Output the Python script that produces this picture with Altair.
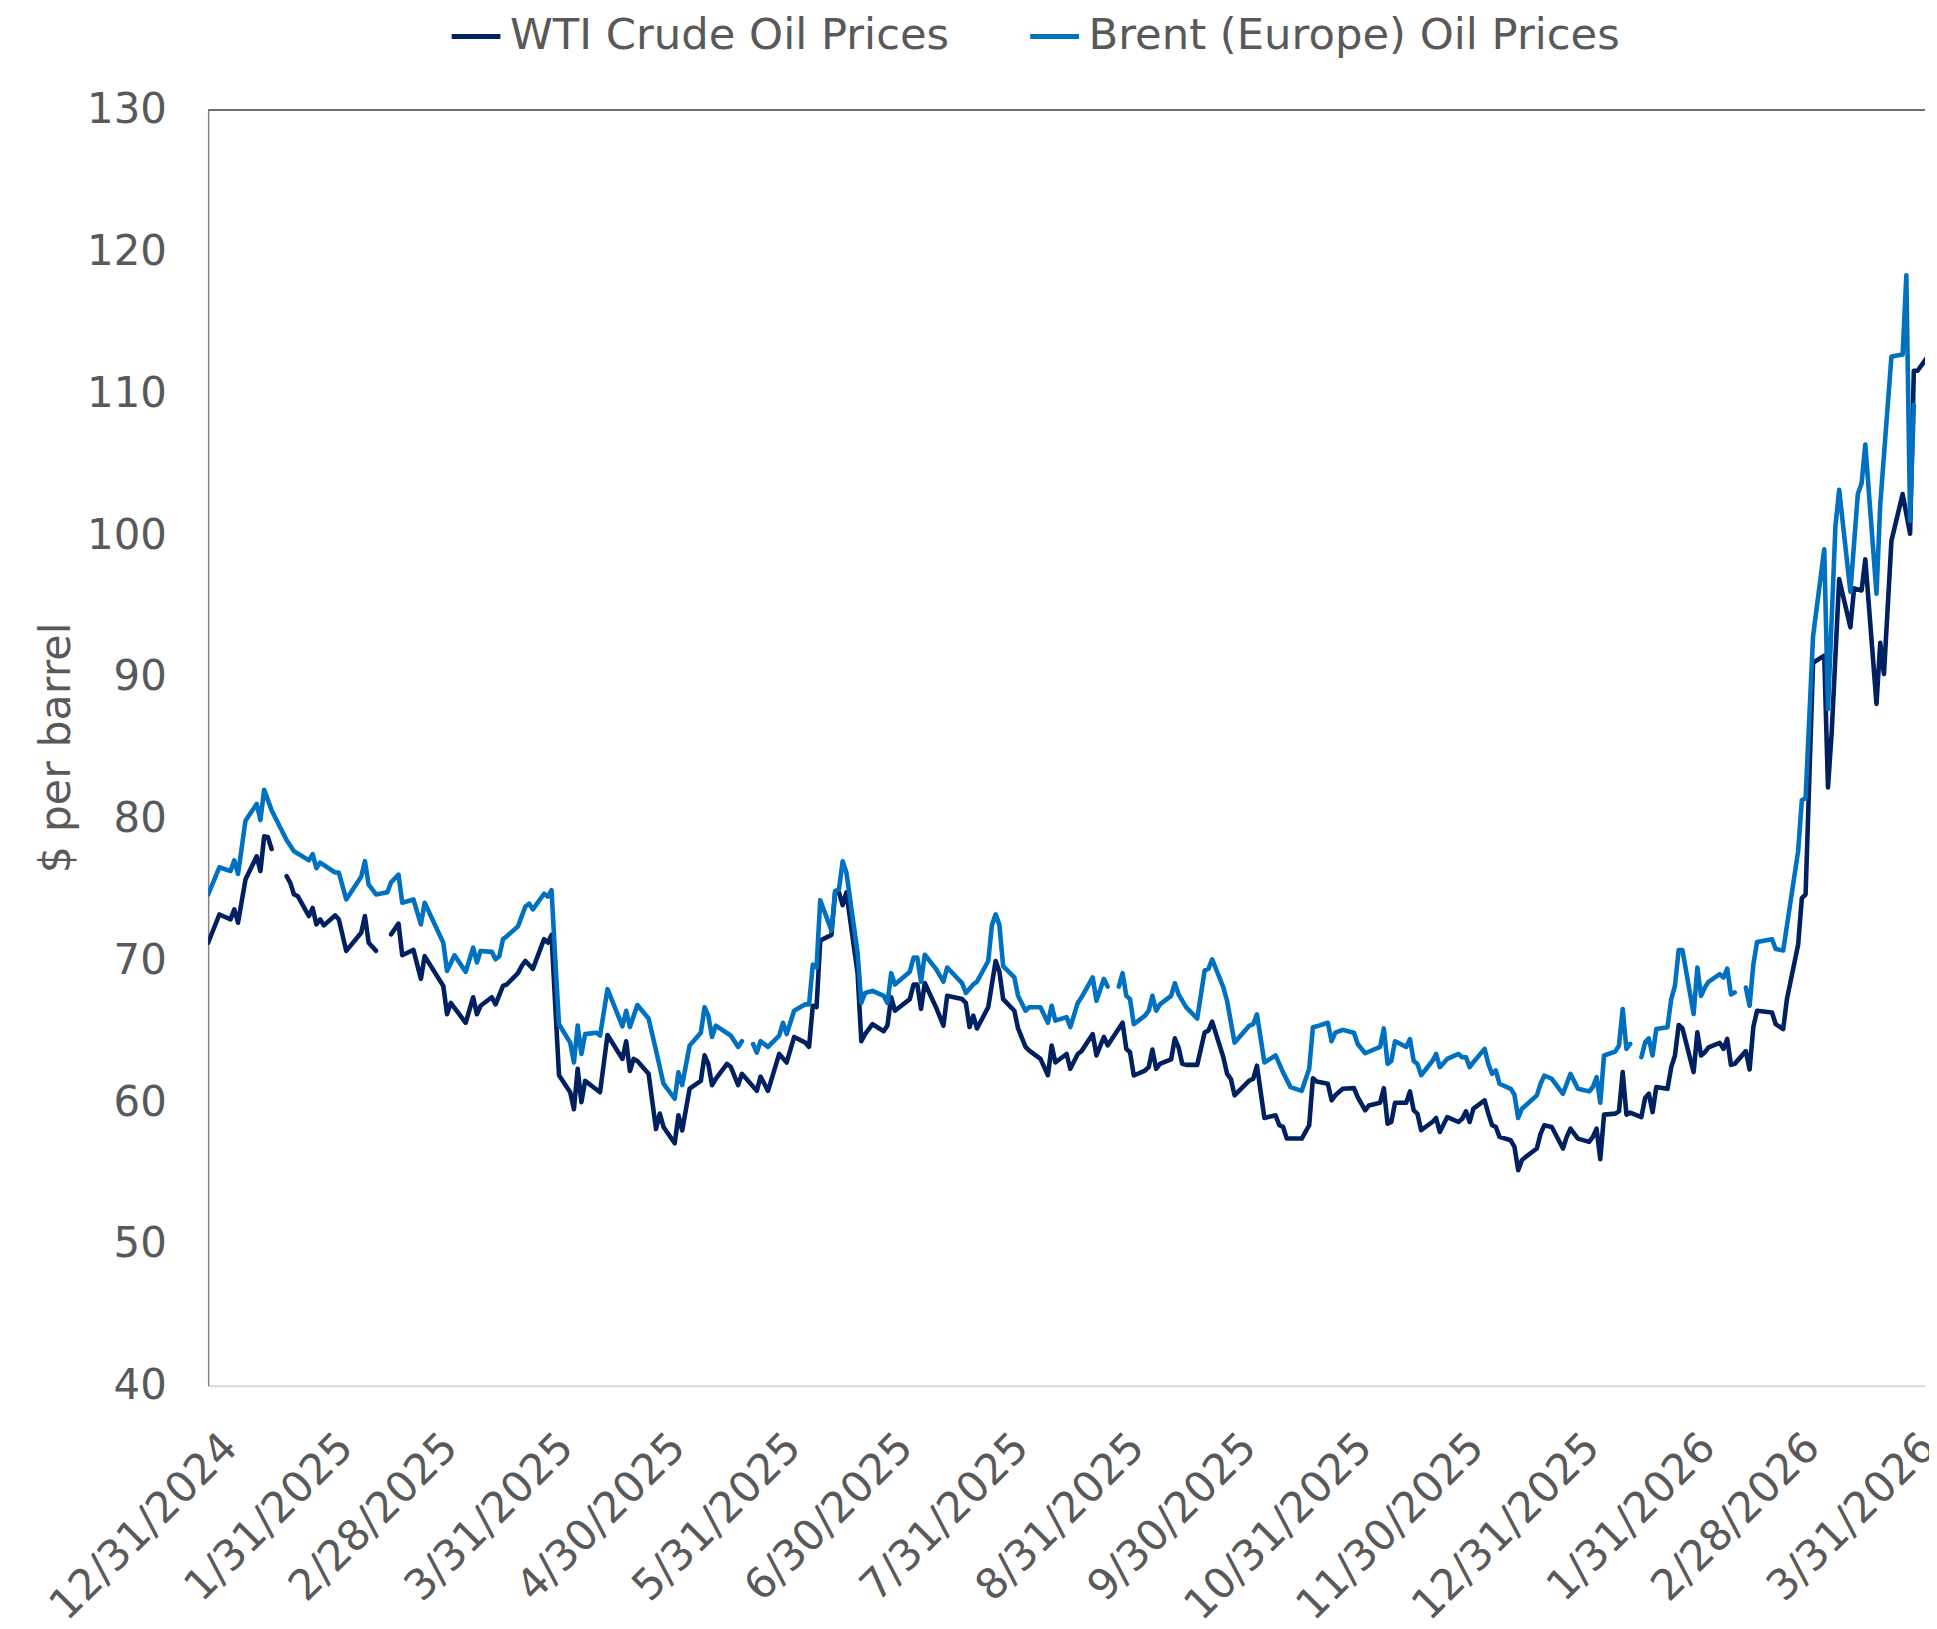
import datetime as dt
import altair as alt
import pandas as pd

WTI_NAME = "WTI Crude Oil Prices"
BRENT_NAME = "Brent (Europe) Oil Prices"

# ---- WTI (None marks a break in the line) ----
wti_dates = [
    "2024-12-31", "2025-01-03", "2025-01-06", "2025-01-07", "2025-01-08", "2025-01-10", "2025-01-13",
    "2025-01-14", "2025-01-15", "2025-01-16", "2025-01-17", "2025-01-20", "2025-01-21", "2025-01-22",
    "2025-01-23", "2025-01-24", "2025-01-27", "2025-01-28", "2025-01-29", "2025-01-30", "2025-01-31",
    "2025-02-03", "2025-02-04", "2025-02-06", "2025-02-10", "2025-02-11", "2025-02-12", "2025-02-14",
    "2025-02-17", "2025-02-18", "2025-02-20", "2025-02-21", "2025-02-24", "2025-02-26", "2025-02-27",
    "2025-03-04", "2025-03-05", "2025-03-06", "2025-03-10", "2025-03-12", "2025-03-13", "2025-03-14",
    "2025-03-17", "2025-03-18", "2025-03-20", "2025-03-21", "2025-03-24", "2025-03-25", "2025-03-26",
    "2025-03-28", "2025-03-31", "2025-04-01", "2025-04-02", "2025-04-03", "2025-04-04", "2025-04-07",
    "2025-04-08", "2025-04-09", "2025-04-10", "2025-04-11", "2025-04-15", "2025-04-17", "2025-04-21",
    "2025-04-22", "2025-04-23", "2025-04-24", "2025-04-25", "2025-04-28", "2025-04-30", "2025-05-01",
    "2025-05-02", "2025-05-05", "2025-05-06", "2025-05-07", "2025-05-09", "2025-05-12", "2025-05-13",
    "2025-05-14", "2025-05-15", "2025-05-16", "2025-05-19", "2025-05-20", "2025-05-22", "2025-05-23",
    "2025-05-27", "2025-05-28", "2025-05-30", "2025-06-02", "2025-06-04", "2025-06-06", "2025-06-09",
    "2025-06-10", "2025-06-11", "2025-06-12", "2025-06-13", "2025-06-16", "2025-06-17", "2025-06-18",
    "2025-06-19", "2025-06-20", "2025-06-23", "2025-06-24", "2025-06-25", "2025-06-27", "2025-06-30",
    "2025-07-01", "2025-07-02", "2025-07-03", "2025-07-07", "2025-07-08", "2025-07-09", "2025-07-10",
    "2025-07-11", "2025-07-14", "2025-07-16", "2025-07-17", "2025-07-21", "2025-07-22", "2025-07-23",
    "2025-07-24", "2025-07-25", "2025-07-28", "2025-07-30", "2025-07-31", "2025-08-01", "2025-08-04",
    "2025-08-05", "2025-08-07", "2025-08-08", "2025-08-11", "2025-08-13", "2025-08-14", "2025-08-15",
    "2025-08-18", "2025-08-19", "2025-08-21", "2025-08-22", "2025-08-25", "2025-08-26", "2025-08-28",
    "2025-08-29", "2025-09-02", "2025-09-03", "2025-09-04", "2025-09-05", "2025-09-08", "2025-09-09",
    "2025-09-10", "2025-09-11", "2025-09-12", "2025-09-15", "2025-09-16", "2025-09-17", "2025-09-18",
    "2025-09-19", "2025-09-22", "2025-09-24", "2025-09-25", "2025-09-26", "2025-09-29", "2025-09-30",
    "2025-10-01", "2025-10-02", "2025-10-06", "2025-10-07", "2025-10-08", "2025-10-10", "2025-10-13",
    "2025-10-14", "2025-10-15", "2025-10-16", "2025-10-20", "2025-10-21", "2025-10-22", "2025-10-23",
    "2025-10-24", "2025-10-27", "2025-10-28", "2025-10-29", "2025-10-31", "2025-11-03", "2025-11-04",
    "2025-11-06", "2025-11-07", "2025-11-10", "2025-11-11", "2025-11-12", "2025-11-13", "2025-11-14",
    "2025-11-17", "2025-11-18", "2025-11-19", "2025-11-20", "2025-11-21", "2025-11-24", "2025-11-25",
    "2025-11-26", "2025-11-28", "2025-12-01", "2025-12-02", "2025-12-03", "2025-12-04", "2025-12-05",
    "2025-12-08", "2025-12-09", "2025-12-10", "2025-12-11", "2025-12-12", "2025-12-15", "2025-12-16",
    "2025-12-17", "2025-12-18", "2025-12-19", "2025-12-22", "2025-12-23", "2025-12-24", "2025-12-26",
    "2025-12-29", "2025-12-30", "2025-12-31", "2026-01-02", "2026-01-05", "2026-01-06", "2026-01-07",
    "2026-01-08", "2026-01-09", "2026-01-12", "2026-01-13", "2026-01-14", "2026-01-15", "2026-01-16",
    "2026-01-19", "2026-01-20", "2026-01-21", "2026-01-22", "2026-01-23", "2026-01-26", "2026-01-27",
    "2026-01-28", "2026-01-29", "2026-01-30", "2026-02-02", "2026-02-03", "2026-02-04", "2026-02-05",
    "2026-02-06", "2026-02-09", "2026-02-10", "2026-02-11", "2026-02-12", "2026-02-13", "2026-02-16",
    "2026-02-17", "2026-02-18", "2026-02-19", "2026-02-23", "2026-02-24", "2026-02-26", "2026-02-27",
    "2026-03-02", "2026-03-03", "2026-03-04", "2026-03-06", "2026-03-09", "2026-03-10", "2026-03-11",
    "2026-03-13", "2026-03-16", "2026-03-17", "2026-03-19", "2026-03-20", "2026-03-23", "2026-03-24",
    "2026-03-25", "2026-03-27", "2026-03-30", "2026-04-01", "2026-04-02", "2026-04-03", "2026-04-06",
]
wti_values = [
    71.25, 73.24, 72.90, 73.60, 72.66, 75.70, 77.34,
    76.30, 78.75, 78.70, 77.86, None, 75.94, 75.47,
    74.65, 74.53, 73.13, 73.70, 72.54, 72.90, 72.47,
    73.17, 72.90, 70.67, 71.95, 73.13, 71.25, 70.67,
    None, 71.84, 72.60, 70.36, 70.74, 68.70, 70.30,
    68.20, 66.20, 67.00, 65.60, 67.40, 66.20, 66.80,
    67.40, 66.90, 68.20, 68.30, 69.10, 69.60, 69.96,
    69.40, 71.50, 71.25, 71.80, 66.80, 61.90, 60.70,
    59.50, 62.35, 60.00, 61.50, 60.70, 64.74, 63.05,
    64.30, 62.20, 63.05, 62.90, 62.00, 58.10, 59.20,
    58.25, 57.10, 59.07, 58.00, 60.95, 61.50, 63.30,
    62.70, 61.20, 61.65, 62.70, 62.50, 61.20, 62.00,
    60.80, 61.80, 60.80, 63.40, 62.80, 64.60, 64.20,
    63.90, 66.80, 66.70, 71.40, 71.80, 74.88, 74.80,
    73.90, 74.80, 69.10, 64.30, 64.80, 65.50, 65.00,
    65.40, 67.40, 66.45, 67.27, 68.30, 68.30, 66.57,
    68.40, 66.70, 65.40, 67.50, 67.27, 67.00, 65.30,
    66.10, 65.20, 66.70, 69.96, 69.20, 67.27, 66.45,
    65.20, 63.90, 63.64, 63.05, 61.90, 63.99, 62.80,
    63.40, 62.35, 63.40, 63.60, 64.80, 63.30, 64.60,
    64.00, 65.60, 63.76, 63.52, 61.88, 62.23, 62.47,
    63.71, 62.35, 62.70, 63.01, 64.50, 63.87, 62.70,
    62.63, 62.63, 64.93, 65.04, 65.68, 63.17, 62.00,
    61.65, 60.48, 61.53, 61.65, 62.58, 58.88, 59.07,
    58.37, 58.25, 57.43, 57.43, 57.90, 58.37, 61.69,
    61.46, 61.30, 60.13, 60.48, 60.94, 60.99, 60.36,
    59.42, 59.77, 59.96, 60.99, 58.48, 58.60, 59.96,
    59.96, 60.76, 59.42, 59.19, 58.02, 58.60, 58.88,
    57.90, 58.95, 58.60, 58.83, 59.35, 58.60, 59.54,
    60.13, 59.19, 58.37, 58.25, 57.55, 57.31, 56.85,
    55.20, 55.91, 56.14, 56.73, 57.78, 58.37, 58.25,
    56.73, 57.55, 58.13, 57.43, 57.20, 57.55, 58.13,
    55.98, 59.12, 59.19, 59.35, 62.12, 59.12, 59.26,
    58.95, 60.29, 60.59, 59.30, 61.06, 60.94, 62.47,
    63.29, 65.44, 65.21, 62.12, 64.93, 63.29, 63.52,
    63.87, 64.18, 63.76, 64.46, 62.63, 62.70, 63.60,
    62.30, 65.30, 66.45, 66.33, 65.50, 65.16, 67.27,
    71.10, 74.40, 74.65, 91.00, 91.50, 82.20, 86.10,
    96.90, 93.50, 96.25, 96.10, 98.30, 88.10, 92.40,
    90.20, 99.60, 102.90, 100.10, 111.60, 111.60, 112.70,
]

# ---- Brent (None marks a break in the line) ----
brent_dates = [
    "2024-12-31", "2025-01-03", "2025-01-06", "2025-01-07", "2025-01-08", "2025-01-10", "2025-01-13",
    "2025-01-14", "2025-01-15", "2025-01-17", "2025-01-21", "2025-01-23", "2025-01-27", "2025-01-28",
    "2025-01-29", "2025-01-30", "2025-02-03", "2025-02-04", "2025-02-06", "2025-02-10", "2025-02-11",
    "2025-02-12", "2025-02-14", "2025-02-17", "2025-02-18", "2025-02-20", "2025-02-21", "2025-02-24",
    "2025-02-26", "2025-02-27", "2025-03-04", "2025-03-05", "2025-03-07", "2025-03-10", "2025-03-12",
    "2025-03-13", "2025-03-14", "2025-03-17", "2025-03-18", "2025-03-19", "2025-03-20", "2025-03-21",
    "2025-03-24", "2025-03-26", "2025-03-27", "2025-03-28", "2025-03-31", "2025-04-01", "2025-04-02",
    "2025-04-03", "2025-04-04", "2025-04-07", "2025-04-08", "2025-04-09", "2025-04-10", "2025-04-11",
    "2025-04-14", "2025-04-15", "2025-04-17", "2025-04-21", "2025-04-22", "2025-04-23", "2025-04-25",
    "2025-04-28", "2025-04-30", "2025-05-02", "2025-05-05", "2025-05-06", "2025-05-07", "2025-05-09",
    "2025-05-12", "2025-05-13", "2025-05-14", "2025-05-15", "2025-05-16", "2025-05-20", "2025-05-22",
    "2025-05-23", "2025-05-24", "2025-05-26", "2025-05-27", "2025-05-28", "2025-05-30", "2025-06-02",
    "2025-06-03", "2025-06-04", "2025-06-06", "2025-06-09", "2025-06-10", "2025-06-11", "2025-06-12",
    "2025-06-13", "2025-06-16", "2025-06-17", "2025-06-18", "2025-06-19", "2025-06-20", "2025-06-23",
    "2025-06-24", "2025-06-25", "2025-06-27", "2025-06-30", "2025-07-01", "2025-07-02", "2025-07-03",
    "2025-07-07", "2025-07-08", "2025-07-09", "2025-07-10", "2025-07-11", "2025-07-14", "2025-07-16",
    "2025-07-17", "2025-07-21", "2025-07-22", "2025-07-24", "2025-07-25", "2025-07-28", "2025-07-29",
    "2025-07-30", "2025-07-31", "2025-08-01", "2025-08-04", "2025-08-05", "2025-08-07", "2025-08-08",
    "2025-08-11", "2025-08-13", "2025-08-14", "2025-08-15", "2025-08-18", "2025-08-19", "2025-08-21",
    "2025-08-22", "2025-08-25", "2025-08-26", "2025-08-28", "2025-08-29", "2025-08-30", "2025-09-01",
    "2025-09-02", "2025-09-03", "2025-09-04", "2025-09-05", "2025-09-08", "2025-09-09", "2025-09-10",
    "2025-09-11", "2025-09-12", "2025-09-15", "2025-09-16", "2025-09-17", "2025-09-19", "2025-09-22",
    "2025-09-24", "2025-09-25", "2025-09-26", "2025-09-29", "2025-09-30", "2025-10-02", "2025-10-06",
    "2025-10-07", "2025-10-08", "2025-10-10", "2025-10-13", "2025-10-15", "2025-10-17", "2025-10-20",
    "2025-10-22", "2025-10-23", "2025-10-24", "2025-10-27", "2025-10-28", "2025-10-29", "2025-10-31",
    "2025-11-03", "2025-11-04", "2025-11-06", "2025-11-10", "2025-11-11", "2025-11-12", "2025-11-13",
    "2025-11-14", "2025-11-17", "2025-11-18", "2025-11-19", "2025-11-20", "2025-11-21", "2025-11-24",
    "2025-11-25", "2025-11-26", "2025-11-28", "2025-12-01", "2025-12-02", "2025-12-03", "2025-12-04",
    "2025-12-05", "2025-12-08", "2025-12-09", "2025-12-10", "2025-12-11", "2025-12-12", "2025-12-15",
    "2025-12-16", "2025-12-17", "2025-12-18", "2025-12-19", "2025-12-22", "2025-12-23", "2025-12-24",
    "2025-12-26", "2025-12-29", "2025-12-30", "2025-12-31", "2026-01-02", "2026-01-05", "2026-01-06",
    "2026-01-07", "2026-01-08", "2026-01-09", "2026-01-12", "2026-01-13", "2026-01-14", "2026-01-15",
    "2026-01-16", "2026-01-17", "2026-01-19", "2026-01-20", "2026-01-21", "2026-01-22", "2026-01-23",
    "2026-01-26", "2026-01-27", "2026-01-28", "2026-01-29", "2026-01-30", "2026-02-02", "2026-02-03",
    "2026-02-04", "2026-02-05", "2026-02-06", "2026-02-09", "2026-02-10", "2026-02-11", "2026-02-12",
    "2026-02-13", "2026-02-14", "2026-02-16", "2026-02-17", "2026-02-18", "2026-02-19", "2026-02-23",
    "2026-02-24", "2026-02-26", "2026-03-02", "2026-03-03", "2026-03-04", "2026-03-06", "2026-03-09",
    "2026-03-10", "2026-03-12", "2026-03-13", "2026-03-16", "2026-03-18", "2026-03-19", "2026-03-20",
    "2026-03-23", "2026-03-24", "2026-03-27", "2026-03-30", "2026-03-31", "2026-04-01", "2026-04-02",
    "2026-04-03", "2026-04-06",
]
brent_values = [
    74.65, 76.57, 76.30, 77.06, 76.10, 79.85, 81.04,
    79.90, 82.03, 80.60, 78.50, 77.70, 77.06, 77.50,
    76.50, 76.90, 76.20, 76.20, 74.30, 75.90, 77.00,
    75.35, 74.65, 74.80, 75.50, 76.05, 74.07, 74.30,
    72.54, 74.07, 71.25, 69.26, 70.36, 69.19, 70.90,
    69.85, 70.67, 70.60, 70.08, 70.30, 71.50, 71.70,
    72.40, 73.80, 74.00, 73.60, 74.70, 74.50, 74.95,
    70.10, 65.50, 64.20, 62.80, 65.40, 63.40, 64.80,
    64.90, 64.70, 67.97, 65.35, 66.45, 65.30, 66.85,
    65.90, 63.64, 61.30, 60.24, 62.10, 61.20, 64.00,
    64.90, 66.70, 66.10, 64.60, 65.40, 64.70, 63.90,
    64.30, None, 64.10, 63.50, 64.30, 63.90, 64.70,
    65.60, 64.80, 66.45, 66.90, 66.90, 69.70, 69.50,
    74.25, 72.10, 74.90, 75.00, 77.00, 76.20, 70.55,
    67.00, 67.70, 67.85, 67.50, 67.00, 69.10, 68.30,
    69.20, 70.20, 70.20, 68.50, 70.40, 69.40, 68.50,
    69.50, 68.40, 67.70, 68.30, 68.50, 69.96, 72.50,
    73.25, 72.50, 69.60, 68.80, 67.50, 66.45, 66.70,
    66.70, 65.60, 66.80, 65.75, 66.00, 65.30, 67.00,
    67.40, 68.80, 67.15, 68.70, 68.15, None, 68.15,
    69.10, 67.50, 67.27, 65.50, 66.10, 66.45, 67.50,
    66.45, 66.90, 67.50, 68.40, 67.60, 66.70, 65.90,
    69.30, 69.40, 70.08, 68.10, 67.15, 64.20, 65.40,
    65.50, 66.20, 62.80, 63.30, 62.10, 61.06, 60.80,
    62.35, 65.28, 65.35, 65.60, 64.30, 64.90, 65.10,
    64.90, 64.10, 63.45, 63.90, 65.20, 62.70, 62.90,
    64.30, 63.90, 64.45, 62.90, 62.70, 61.90, 62.90,
    63.40, 62.47, 63.05, 63.40, 63.17, 63.17, 62.47,
    62.82, 63.76, 62.70, 62.00, 62.23, 61.30, 60.94,
    60.52, 58.88, 59.54, 59.77, 60.48, 61.30, 61.88,
    61.65, 60.59, 61.30, 62.00, 60.94, 60.76, 61.06,
    61.76, 59.96, 63.29, 63.57, 63.99, 66.57, 63.76,
    64.11, None, 63.17, 64.22, 64.50, 63.29, 65.16,
    65.28, 67.27, 68.21, 70.74, 70.74, 66.22, 69.50,
    67.50, 68.09, 68.49, 69.03, 68.79, 69.42, 67.60,
    67.74, None, 68.09, 66.80, 69.70, 71.30, 71.50,
    70.80, 70.70, 77.70, 81.30, 81.44, 92.86, 99.01,
    87.72, 100.64, 103.20, 96.00, 102.90, 103.65, 106.40,
    95.87, 102.15, 112.60, 112.74, 118.34, 101.00, 109.20,
    None, 109.70,
]

x_tick_dates = [
    "2024-12-31", "2025-01-31", "2025-02-28", "2025-03-31", "2025-04-30", "2025-05-31",
    "2025-06-30", "2025-07-31", "2025-08-31", "2025-09-30", "2025-10-31", "2025-11-30",
    "2025-12-31", "2026-01-31", "2026-02-28", "2026-03-31",
]
y_ticks = [40, 50, 60, 70, 80, 90, 100, 110, 120, 130]
x_start, x_end = "2024-12-31", "2026-04-05"


def ms(s):
    d = dt.datetime.strptime(s, "%Y-%m-%d").replace(tzinfo=dt.timezone.utc)
    return int(d.timestamp() * 1000)


def build_rows(name, dates, values):
    rows, seg = [], 0
    for d, v in zip(dates, values):
        if v is None:
            seg += 1
            continue
        rows.append({"series": name, "t": ms(d), "value": v, "seg": f"{name}-{seg}"})
    return rows


df = pd.DataFrame(build_rows(WTI_NAME, wti_dates, wti_values) +
                  build_rows(BRENT_NAME, brent_dates, brent_values))

FONT = "DejaVu Sans"
GREY = "#595959"

x_enc = alt.X(
    "t:T",
    scale=alt.Scale(type="utc", domain=[ms(x_start), ms(x_end)], nice=False),
    axis=alt.Axis(
        values=[ms(s) for s in x_tick_dates],
        labelExpr="utcFormat(datum.value, '%-m/%-d/%Y')",
        labelAngle=315, labelAlign="right", labelBaseline="top",
        labelPadding=40, labelOffset=7, labelFontSize=42.5, labelFont=FONT,
        labelColor=GREY, labelOverlap=False, labelFlush=False, labelLimit=1000,
        ticks=False, tickSize=0, grid=False,
        domainColor="#D9D9D9", domainWidth=2, title=None,
    ),
)
y_enc = alt.Y(
    "value:Q",
    scale=alt.Scale(domain=[40, 130], nice=False, zero=False),
    axis=alt.Axis(
        values=y_ticks, labelFontSize=42, labelFont=FONT, labelColor=GREY,
        labelPadding=42, ticks=False, tickSize=0, grid=False,
        domainColor="#868686", domainWidth=1.5,
        title="$ per barrel", titleFont=FONT, titleFontSize=43,
        titleFontWeight="normal", titleColor=GREY, titleAngle=270,
        titleX=-152, titleY=640, titleAlign="center", titleBaseline="middle",
    ),
)
color_enc = alt.Color(
    "series:N",
    scale=alt.Scale(domain=[WTI_NAME, BRENT_NAME], range=["#002060", "#0070C0"]),
    legend=alt.Legend(
        title=None, orient="none", legendX=242, legendY=-101, direction="horizontal",
        symbolType="stroke", symbolSize=2400, symbolStrokeWidth=5,
        labelFontSize=43.5, labelFont=FONT, labelColor=GREY, labelLimit=2000,
        labelOffset=7, columnPadding=70, padding=0,
    ),
)

base = alt.Chart(df).encode(x=x_enc, y=y_enc, color=color_enc, detail="seg:N")
line_kw = dict(strokeWidth=4.6, strokeJoin="round", strokeCap="round", clip=True)
wti_layer = base.transform_filter(alt.datum.series == WTI_NAME).mark_line(**line_kw)
brent_layer = base.transform_filter(alt.datum.series == BRENT_NAME).mark_line(**line_kw)

top_border = alt.Chart(pd.DataFrame({"value": [130]})).mark_rule(
    color="#404040", strokeWidth=1.5
).encode(y=y_enc)

chart = (
    alt.layer(top_border, wti_layer, brent_layer)
    .properties(
        width=1724, height=1281,
        padding={"left": 201, "top": 99, "right": 4, "bottom": 240},
        autosize=alt.AutoSizeParams(type="none"),
        background="white",
    )
    .configure_view(stroke=None)
)

chart.save("out.html", embed_options={"renderer": "svg", "actions": False})
